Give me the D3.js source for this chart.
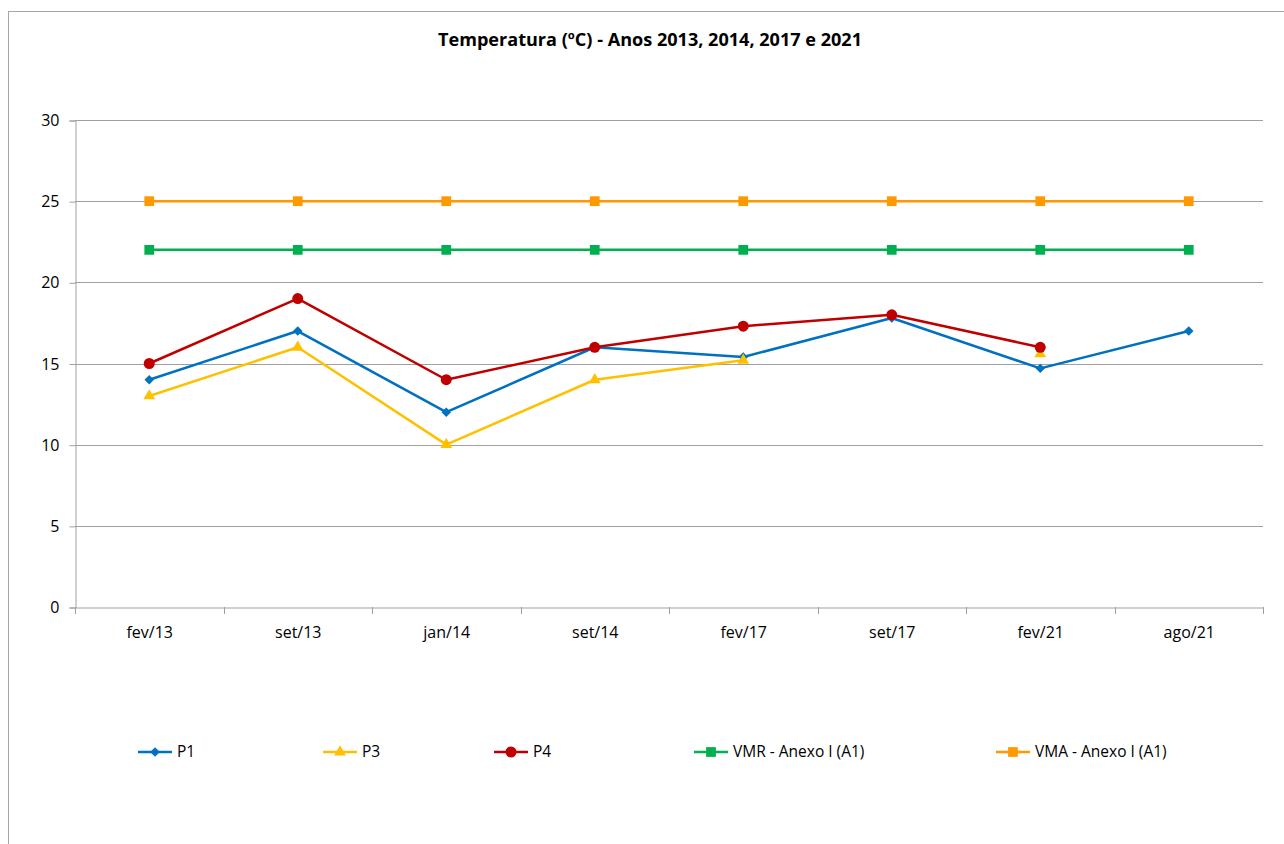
<!DOCTYPE html>
<html>
<head>
<meta charset="utf-8">
<script src="https://cdn.jsdelivr.net/npm/d3@7"></script>
<style>
  body { margin: 0; background: #fff; }
  svg { display: block; font-family: "Open Sans", "Liberation Sans", sans-serif; }
</style>
</head>
<body>
<svg id="chart" width="1284" height="844"></svg>
<script>
const categories = ["fev/13", "set/13", "jan/14", "set/14", "fev/17", "set/17", "fev/21", "ago/21"];
const p1 = [14, 17, 12, 16, 15.4, 17.8, 14.7, 17];
const p3 = [13, 16, 10, 14, 15.2, null, 15.6, null];
const p4 = [15, 19, 14, 16, 17.3, 18, 16, null];
const vmr = [22, 22, 22, 22, 22, 22, 22, 22];
const vma = [25, 25, 25, 25, 25, 25, 25, 25];
const yTicks = [0, 5, 10, 15, 20, 25, 30];

// diamond = square turned 45°
const series = [
  { name: "P1", values: p1, color: "#0070C0", symbol: d3.symbolSquare, size: 45, rot: 45 },
  { name: "P3", values: p3, color: "#FFC000", symbol: d3.symbolTriangle, size: 60, rot: 0 },
  { name: "P4", values: p4, color: "#C00000", symbol: d3.symbolCircle, size: 95, rot: 0 },
  { name: "VMR - Anexo I (A1)", values: vmr, color: "#00B050", symbol: d3.symbolSquare, size: 95, rot: 0 },
  { name: "VMA - Anexo I (A1)", values: vma, color: "#FF9900", symbol: d3.symbolSquare, size: 95, rot: 0 }
];
const legendX = [138, 323, 494, 694, 996];

const svg = d3.select("#chart");
const plot = { left: 75, right: 1263, top: 120, bottom: 607 };

// outer frame
svg.append("rect")
  .attr("x", 8.5).attr("y", 11.5)
  .attr("width", 1290).attr("height", 850)
  .attr("fill", "none").attr("stroke", "#a6a6a6");

svg.append("text")
  .attr("x", 650).attr("y", 46)
  .attr("text-anchor", "middle")
  .attr("font-size", 17).attr("font-weight", "bold")
  .attr("textLength", 424).attr("lengthAdjust", "spacingAndGlyphs")
  .attr("fill", "#000")
  .text("Temperatura (ºC) - Anos 2013, 2014, 2017 e 2021");

const x = d3.scaleBand().domain(categories).range([plot.left, plot.right]);
const y = d3.scaleLinear().domain([0, 30]).range([plot.bottom, plot.top]);

// grid
svg.append("g").selectAll("line").data(yTicks.filter(t => t > 0)).join("line")
  .attr("x1", plot.left).attr("x2", plot.right)
  .attr("y1", d => Math.round(y(d)) + 0.5).attr("y2", d => Math.round(y(d)) + 0.5)
  .attr("stroke", "#a0a0a0");

// y axis
const yAxis = svg.append("g")
  .attr("transform", `translate(${plot.left + 0.5},0.5)`)
  .call(d3.axisLeft(y).tickValues(yTicks).tickSize(6).tickPadding(10));
yAxis.selectAll("text").attr("font-size", 16).attr("fill", "#000").attr("font-family", "Open Sans, sans-serif");
yAxis.selectAll("line, path").attr("stroke", "#a0a0a0");

// x axis
const xAxis = svg.append("g")
  .attr("transform", `translate(0.5,${plot.bottom + 0.5})`)
  .call(d3.axisBottom(x).tickSize(0).tickPadding(19));
xAxis.select("path").attr("stroke", "#a0a0a0");
xAxis.selectAll("text").attr("font-size", 16).attr("fill", "#000").attr("font-family", "Open Sans, sans-serif");
svg.append("g").selectAll("line")
  .data(d3.range(categories.length + 1))
  .join("line")
  .attr("x1", i => Math.round(plot.left + i * x.step()) + 0.5)
  .attr("x2", i => Math.round(plot.left + i * x.step()) + 0.5)
  .attr("y1", plot.bottom).attr("y2", plot.bottom + 7)
  .attr("stroke", "#a0a0a0");

const cx = i => x(categories[i]) + x.bandwidth() / 2;
const line = d3.line()
  .defined(d => d.v != null)
  .x(d => cx(d.i))
  .y(d => y(d.v));

series.forEach(s => {
  const pts = s.values.map((v, i) => ({ v, i }));
  svg.append("path")
    .datum(pts)
    .attr("fill", "none")
    .attr("stroke", s.color)
    .attr("stroke-width", 2.5)
    .attr("stroke-linejoin", "round")
    .attr("d", line);
  svg.append("g").selectAll("path")
    .data(pts.filter(d => d.v != null))
    .join("path")
    .attr("transform", d => `translate(${cx(d.i)},${y(d.v)}) rotate(${s.rot})`)
    .attr("d", d3.symbol().type(s.symbol).size(s.size))
    .attr("fill", s.color);
});

// legend
const legend = svg.append("g");
series.forEach((s, k) => {
  const g = legend.append("g").attr("transform", `translate(${legendX[k]},752)`);
  g.append("line").attr("x1", 0).attr("x2", 34)
    .attr("stroke", s.color).attr("stroke-width", 2.5);
  g.append("path").attr("transform", `translate(17,0) rotate(${s.rot})`)
    .attr("d", d3.symbol().type(s.symbol).size(s.size))
    .attr("fill", s.color);
  g.append("text").attr("x", 39).attr("y", 5)
    .attr("font-size", 15.5).attr("fill", "#000")
    .text(s.name);
});
</script>
</body>
</html>
